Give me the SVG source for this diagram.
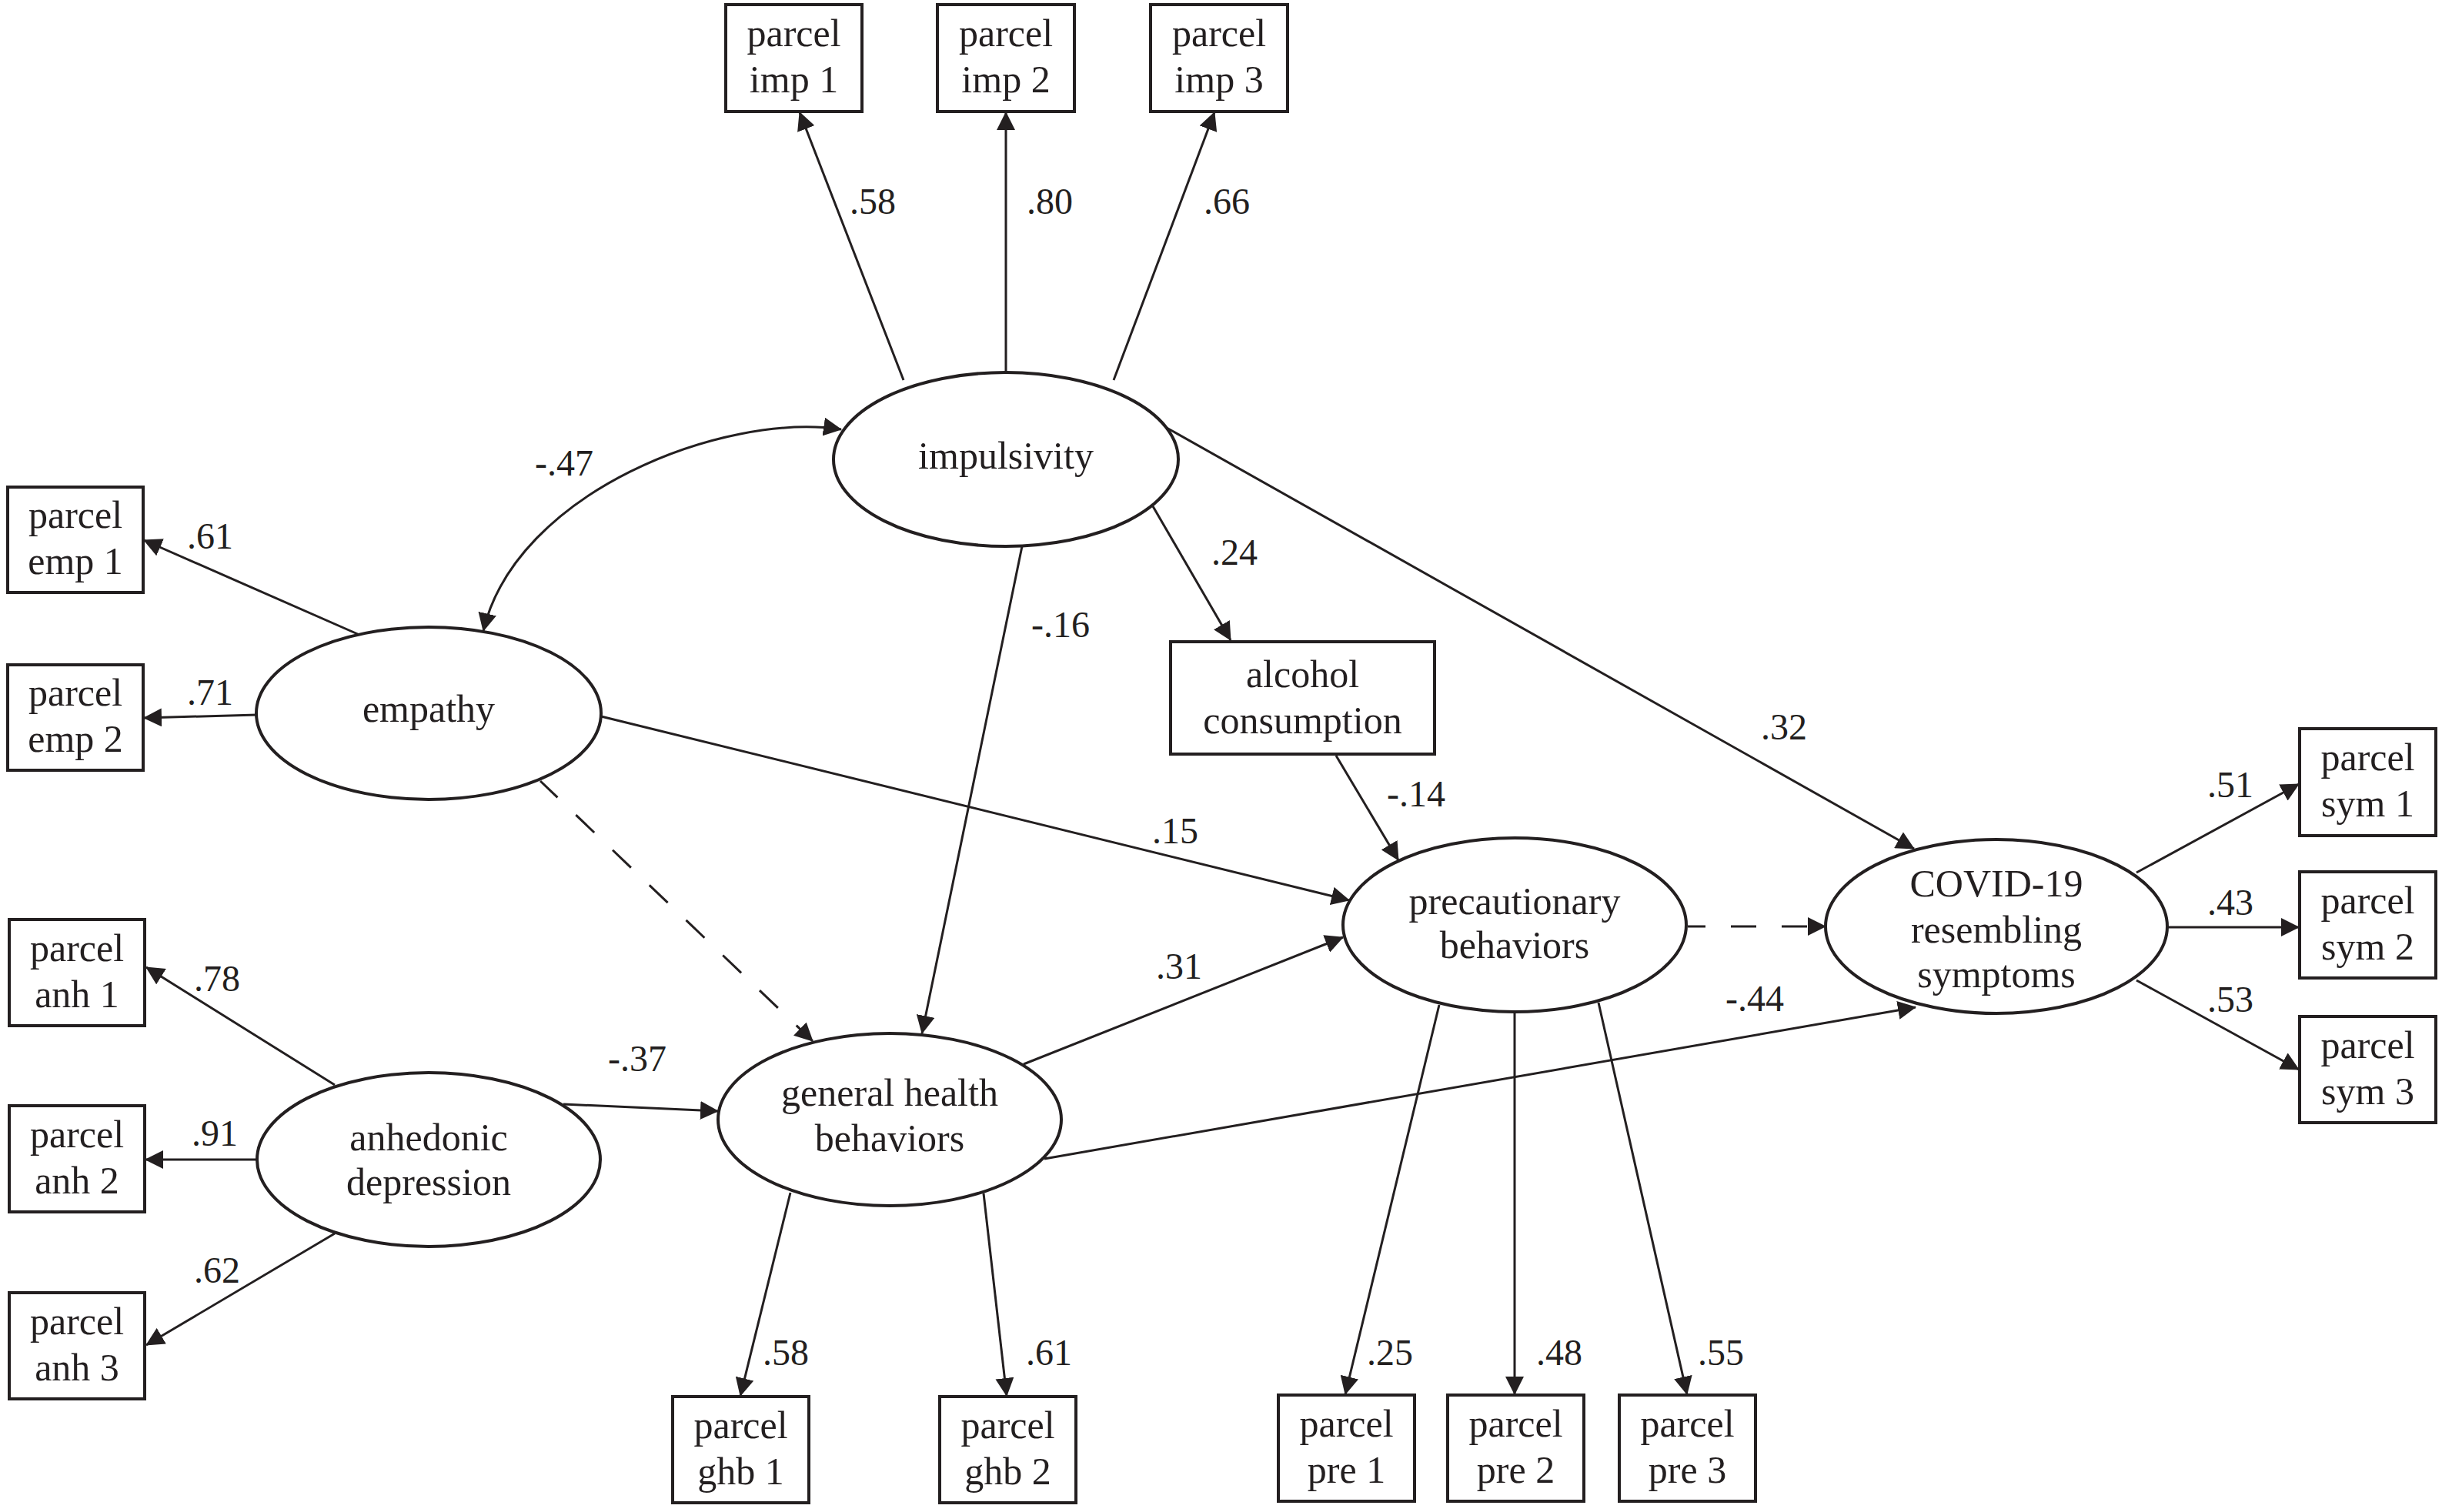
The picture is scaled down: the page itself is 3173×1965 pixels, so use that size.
<svg xmlns="http://www.w3.org/2000/svg" width="3173" height="1965" viewBox="0 0 3173 1965">
<defs>
<marker id="ah" viewBox="0 0 24 24" markerWidth="24" markerHeight="24" markerUnits="userSpaceOnUse" refX="23" refY="12" orient="auto-start-reverse">
<path d="M0,0 L24,12 L0,24 z" fill="#231f20"/>
</marker>
<style>
.box{fill:#fff;stroke:#231f20;stroke-width:4}
.ell{fill:#fff;stroke:#231f20;stroke-width:4}
.t{font-family:"Liberation Serif","Times New Roman",serif;font-size:50px;fill:#231f20;text-anchor:middle}
.lb{font-family:"Liberation Serif","Times New Roman",serif;font-size:48px;fill:#231f20;text-anchor:middle}
.c{fill:none;stroke:#231f20;stroke-width:3;marker-end:url(#ah)}
.d{stroke-dasharray:33 33}
</style>
</defs>
<rect width="3173" height="1965" fill="#fff"/>

<g id="impulsivity"><ellipse class="ell" cx="1307" cy="597" rx="224" ry="113"/><text class="t" x="1307" y="609">impulsivity</text></g>
<g id="empathy"><ellipse class="ell" cx="557" cy="927" rx="224" ry="112"/><text class="t" x="557" y="938">empathy</text></g>
<g id="anhedonic"><ellipse class="ell" cx="557" cy="1507" rx="223" ry="113"/><text class="t" x="557" y="1495">anhedonic</text><text class="t" x="557" y="1553">depression</text></g>
<g id="ghb"><ellipse class="ell" cx="1156" cy="1455" rx="223" ry="112"/><text class="t" x="1156" y="1437">general health</text><text class="t" x="1156" y="1496">behaviors</text></g>
<g id="precautionary"><ellipse class="ell" cx="1968" cy="1202" rx="223" ry="113"/><text class="t" x="1968" y="1188">precautionary</text><text class="t" x="1968" y="1245">behaviors</text></g>
<g id="covid"><ellipse class="ell" cx="2594" cy="1204" rx="222" ry="113"/><text class="t" x="2594" y="1165">COVID-19</text><text class="t" x="2594" y="1225">resembling</text><text class="t" x="2594" y="1283">symptoms</text></g>
<g id="alcohol"><rect class="box" x="1521" y="834" width="343" height="146"/><text class="t" x="1692.5" y="893">alcohol</text><text class="t" x="1692.5" y="953">consumption</text></g>

<g id="imp1"><rect class="box" x="943" y="6" width="177" height="139"/><text class="t" x="1031.5" y="60">parcel</text><text class="t" x="1031.5" y="120">imp 1</text></g>
<g id="imp2"><rect class="box" x="1218" y="6" width="178" height="139"/><text class="t" x="1307" y="60">parcel</text><text class="t" x="1307" y="120">imp 2</text></g>
<g id="imp3"><rect class="box" x="1495" y="6" width="178" height="139"/><text class="t" x="1584" y="60">parcel</text><text class="t" x="1584" y="120">imp 3</text></g>
<g id="emp1"><rect class="box" x="10" y="633" width="176" height="137"/><text class="t" x="98" y="686">parcel</text><text class="t" x="98" y="746">emp 1</text></g>
<g id="emp2"><rect class="box" x="10" y="864" width="176" height="137"/><text class="t" x="98" y="917">parcel</text><text class="t" x="98" y="977">emp 2</text></g>
<g id="anh1"><rect class="box" x="12" y="1195" width="176" height="138"/><text class="t" x="100" y="1249">parcel</text><text class="t" x="100" y="1309">anh 1</text></g>
<g id="anh2"><rect class="box" x="12" y="1437" width="176" height="138"/><text class="t" x="100" y="1491">parcel</text><text class="t" x="100" y="1551">anh 2</text></g>
<g id="anh3"><rect class="box" x="12" y="1680" width="176" height="138"/><text class="t" x="100" y="1734">parcel</text><text class="t" x="100" y="1794">anh 3</text></g>
<g id="ghb1"><rect class="box" x="874" y="1815" width="177" height="138"/><text class="t" x="962.5" y="1869">parcel</text><text class="t" x="962.5" y="1929">ghb 1</text></g>
<g id="ghb2"><rect class="box" x="1221" y="1815" width="177" height="138"/><text class="t" x="1309.5" y="1869">parcel</text><text class="t" x="1309.5" y="1929">ghb 2</text></g>
<g id="pre1"><rect class="box" x="1661" y="1813" width="177" height="138"/><text class="t" x="1749.5" y="1867">parcel</text><text class="t" x="1749.5" y="1927">pre 1</text></g>
<g id="pre2"><rect class="box" x="1881" y="1813" width="177" height="138"/><text class="t" x="1969.5" y="1867">parcel</text><text class="t" x="1969.5" y="1927">pre 2</text></g>
<g id="pre3"><rect class="box" x="2104" y="1813" width="177" height="138"/><text class="t" x="2192.5" y="1867">parcel</text><text class="t" x="2192.5" y="1927">pre 3</text></g>
<g id="sym1"><rect class="box" x="2988" y="947" width="177" height="139"/><text class="t" x="3076.5" y="1001">parcel</text><text class="t" x="3076.5" y="1061">sym 1</text></g>
<g id="sym2"><rect class="box" x="2988" y="1133" width="177" height="138"/><text class="t" x="3076.5" y="1187">parcel</text><text class="t" x="3076.5" y="1247">sym 2</text></g>
<g id="sym3"><rect class="box" x="2988" y="1321" width="177" height="138"/><text class="t" x="3076.5" y="1375">parcel</text><text class="t" x="3076.5" y="1435">sym 3</text></g>

<g id="connectors">
<path class="c" d="M1174,494 L1039,146"/>
<path class="c" d="M1307,484 L1307,146"/>
<path class="c" d="M1447,494 L1578,146"/>
<path class="c" style="marker-start:url(#ah)" d="M1093,558 C940,535 670,640 628,820"/>
<path class="c" d="M467,825 L187,702"/>
<path class="c" d="M334,929 L187,933"/>
<path class="c" d="M781,931 L1753,1170"/>
<path class="c d" stroke-dashoffset="2" d="M702,1015 L1056,1353"/>
<path class="c" d="M1328,710 L1198,1343"/>
<path class="c" d="M1498,658 L1599,832"/>
<path class="c" d="M1736,982 L1817,1118"/>
<path class="c" d="M1516,556 L2487,1103"/>
<path class="c d" stroke-dashoffset="10" d="M2193,1204 L2372,1204"/>
<path class="c" d="M1330,1383 L1745,1218"/>
<path class="c" d="M1357,1506 L2489,1309"/>
<path class="c" d="M732,1435 L933,1444"/>
<path class="c" d="M435,1410 L190,1257"/>
<path class="c" d="M335,1507 L189,1507"/>
<path class="c" d="M435,1603 L190,1748"/>
<path class="c" d="M1027,1550 L962,1814"/>
<path class="c" d="M1278,1551 L1308,1814"/>
<path class="c" d="M1870,1306 L1748,1812"/>
<path class="c" d="M1968,1315 L1968,1812"/>
<path class="c" d="M2077,1303 L2192,1812"/>
<path class="c" d="M2776,1134 L2987,1019"/>
<path class="c" d="M2817,1205 L2987,1205"/>
<path class="c" d="M2776,1274 L2987,1390"/>
</g>

<g id="labels">
<text class="lb" x="1134" y="278">.58</text>
<text class="lb" x="1364" y="278">.80</text>
<text class="lb" x="1594" y="278">.66</text>
<text class="lb" x="733" y="618">-.47</text>
<text class="lb" x="273" y="713">.61</text>
<text class="lb" x="273" y="916">.71</text>
<text class="lb" x="1527" y="1096">.15</text>
<text class="lb" x="1378" y="828">-.16</text>
<text class="lb" x="1604" y="734">.24</text>
<text class="lb" x="1840" y="1048">-.14</text>
<text class="lb" x="2318" y="961">.32</text>
<text class="lb" x="1532" y="1272">.31</text>
<text class="lb" x="2280" y="1314">-.44</text>
<text class="lb" x="828" y="1392">-.37</text>
<text class="lb" x="282" y="1288">.78</text>
<text class="lb" x="279" y="1489">.91</text>
<text class="lb" x="282" y="1667">.62</text>
<text class="lb" x="1021" y="1774">.58</text>
<text class="lb" x="1363" y="1774">.61</text>
<text class="lb" x="1806" y="1774">.25</text>
<text class="lb" x="2026" y="1774">.48</text>
<text class="lb" x="2236" y="1774">.55</text>
<text class="lb" x="2898" y="1036">.51</text>
<text class="lb" x="2898" y="1189">.43</text>
<text class="lb" x="2898" y="1315">.53</text>
</g>
</svg>
